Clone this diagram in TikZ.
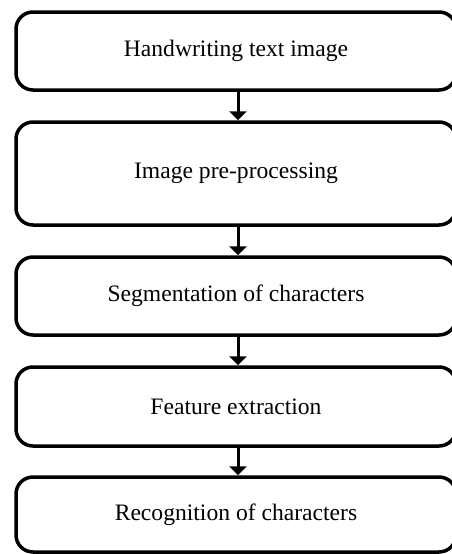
\documentclass[tikz,border=0pt]{standalone}
\usepackage{fontspec}
\setmainfont{Liberation Serif}
\usetikzlibrary{arrows.meta}
\begin{document}
\begin{tikzpicture}[x=1pt,y=-1pt,
  stagebox/.style={draw=black, line width=3.5pt, rounded corners=17pt, rectangle,
    minimum width=440pt, inner sep=0pt, font=\fontsize{23.6}{28}\selectfont, text=black},
  flowarrow/.style={line width=3pt, -{Triangle[width=17pt,length=9pt]}}]
\useasboundingbox (0,0) rectangle (451,554);
\node[stagebox, minimum height=78pt] (b1) at (236,51) {\raisebox{5pt}{Handwriting text image}};
\node[stagebox, minimum height=103pt] (b2) at (236,173.5) {\raisebox{3pt}{Image pre-processing}};
\node[stagebox, minimum height=78pt] (b3) at (236,296) {Segmentation of characters};
\node[stagebox, minimum height=79pt] (b4) at (236,406.5) {\raisebox{-4pt}{Feature extraction}};
\node[stagebox, minimum height=75pt] (b5) at (236,514.5) {\raisebox{-5pt}{Recognition of characters}};
\draw[flowarrow] ([xshift=2pt]b1.south) -- ([xshift=2pt]b2.north);
\draw[flowarrow] ([xshift=2pt]b2.south) -- ([xshift=2pt]b3.north);
\draw[flowarrow] ([xshift=2pt]b3.south) -- ([xshift=2pt]b4.north);
\draw[flowarrow] ([xshift=2pt]b4.south) -- ([xshift=2pt]b5.north);
\end{tikzpicture}
\end{document}
